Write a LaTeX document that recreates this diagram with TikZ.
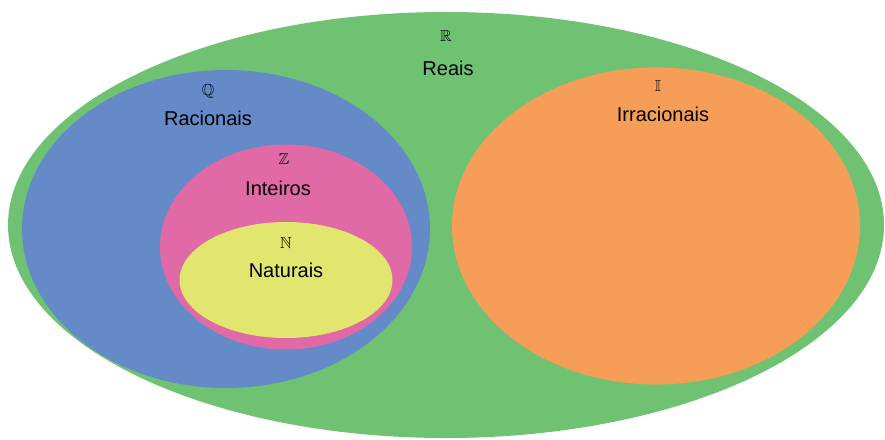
\documentclass[tikz,border=0pt]{standalone}
\usepackage{amssymb}
\usepackage{fontspec}
\setmainfont{Liberation Sans}
\usepackage{tikz}
\usetikzlibrary{shapes.geometric}
\definecolor{reais}{RGB}{112,194,115}
\definecolor{racionais}{RGB}{100,139,199}
\definecolor{inteiros}{RGB}{225,105,165}
\definecolor{naturais}{RGB}{225,230,110}
\definecolor{irracionais}{RGB}{246,158,87}

\begin{document}
\begin{tikzpicture}[x=1pt,y=-1pt,
                    set node/.style={ellipse,draw=none,inner sep=0pt},
                    symbol node/.style={font=\fontsize{16}{16}\selectfont},
                    name node/.style={font=\fontsize{20}{20}\selectfont}]

%Background
 \fill[white] (0,0) rectangle (885,439);
 \useasboundingbox (0,0) rectangle (885,439);

%Sets
 \node[set node,fill=reais,minimum width=876pt,minimum height=426pt] (SetR) at (446,225) {};
 \node[set node,fill=racionais,minimum width=408pt,minimum height=318pt] (SetQ) at (226,229) {};
 \node[set node,fill=irracionais,minimum width=408pt,minimum height=317pt] (SetI) at (656,226) {};
 \node[set node,fill=inteiros,minimum width=252pt,minimum height=205pt] (SetZ) at (286,247) {};
 \node[set node,fill=naturais,minimum width=213pt,minimum height=116pt] (SetN) at (286,280) {};

%Labels
 \node[symbol node] (SymR) at (446,36) {$\mathbb{R}$};
 \node[name node] (NameR) at (448,68) {Reais};

 \node[symbol node] (SymQ) at (208,91) {$\mathbb{Q}$};
 \node[name node] (NameQ) at (208,118) {Racionais};

 \node[symbol node] (SymZ) at (284,159) {$\mathbb{Z}$};
 \node[name node] (NameZ) at (278,188) {Inteiros};

 \node[symbol node] (SymN) at (286,243) {$\mathbb{N}$};
 \node[name node] (NameN) at (286,270) {Naturais};

 \node[symbol node] (SymI) at (658,86) {$\mathbb{I}$};
 \node[name node] (NameI) at (663,114) {Irracionais};

\end{tikzpicture}
\end{document}
